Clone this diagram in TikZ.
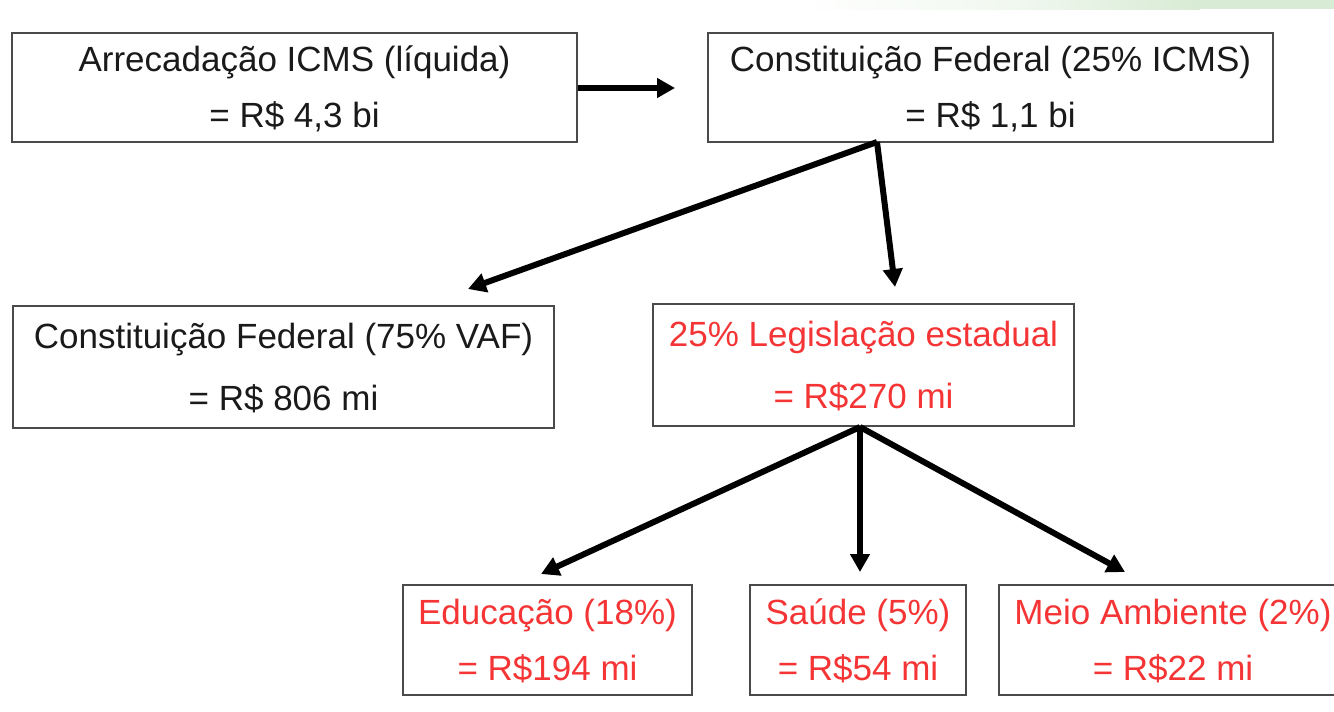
\documentclass[tikz,border=0pt]{standalone}
\usepackage{fontspec}
\setmainfont{Liberation Sans}
\usetikzlibrary{arrows.meta}
\definecolor{boxline}{HTML}{4A4A4A}
\definecolor{txt}{HTML}{1A1A1A}
\definecolor{redtxt}{HTML}{F53535}
\definecolor{band}{HTML}{D8EBD4}
\newcommand{\toplift}{\rule{0pt}{28pt}}
\tikzset{
  x=1pt,y=-1pt,
  boxnode/.style={draw=boxline,line width=1.6pt,fill=white,align=center,inner sep=0pt,text=txt,font=\fontsize{35}{35}\selectfont},
  redbox/.style={boxnode,text=redtxt},
  conn/.style={line width=6pt,black,-{Triangle[length=18pt,width=19pt]}}
}
\begin{document}
\begin{tikzpicture}
\useasboundingbox (0,0) rectangle (1334,712);
\fill[white] (0,0) rectangle (1334,712);
\shade[left color=white,right color=band!35!white] (800,0) rectangle (1010,9);
\shade[left color=band!35!white,right color=band] (1010,0) rectangle (1200,9);
\fill[band] (1200,0) rectangle (1334,9);
\clip (0,0) rectangle (1334,712);
\node[boxnode,minimum width=565pt,minimum height=109pt] (a) at (294.5,87.5) {\toplift Arrecadação ICMS (líquida)\\[21pt]= R\$ 4,3 bi};
\node[boxnode,minimum width=565pt,minimum height=109pt] (b) at (990.5,87.5) {\toplift Constituição Federal (25\% ICMS)\\[21pt]= R\$ 1,1 bi};
\node[boxnode,minimum width=541pt,minimum height=122pt] (c) at (283.5,367) {\toplift Constituição Federal (75\% VAF)\\[27pt]= R\$ 806 mi};
\node[redbox,minimum width=421pt,minimum height=122pt] (d) at (863.5,365) {\toplift 25\% Legislação estadual\\[27pt]= R\$270 mi};
\node[redbox,minimum width=289pt,minimum height=110pt] (e) at (547.5,640) {\toplift Educação (18\%)\\[21pt]= R\$194 mi};
\node[redbox,minimum width=216pt,minimum height=110pt] (f) at (858,640) {\toplift Saúde (5\%)\\[21pt]= R\$54 mi};
\node[redbox,minimum width=348pt,minimum height=110pt] (g) at (1173,640) {\toplift Meio Ambiente (2\%)\\[21pt]= R\$22 mi};
\coordinate (aend) at (675,88);
\coordinate (bs) at (877,142);
\coordinate (cend) at (468,289);
\coordinate (dend) at (895,287);
\coordinate (ds) at (860,427);
\coordinate (eend) at (541,574);
\coordinate (fend) at (860,572);
\coordinate (gend) at (1125,572);
\draw[conn] (a.east |- aend) -- (aend);
\draw[conn] (bs) -- (cend);
\draw[conn] (bs) -- (dend);
\draw[conn] (ds) -- (eend);
\draw[conn] (ds) -- (fend);
\draw[conn] (ds) -- (gend);
\end{tikzpicture}
\end{document}
